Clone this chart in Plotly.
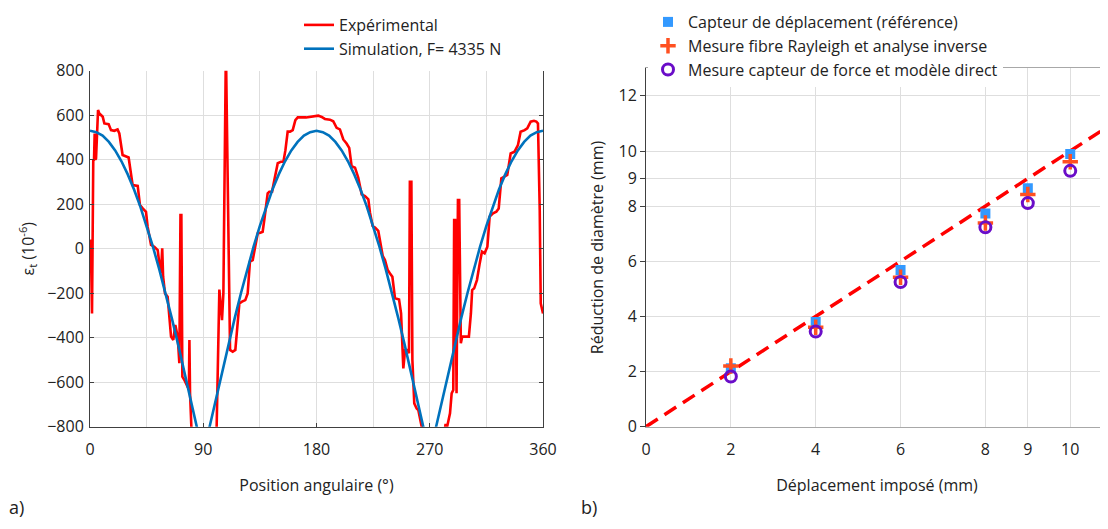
import plotly.graph_objects as go

# ---------------- Data: panel a) ----------------
red_theta = [0, 0.6, 1.6, 2.6, 3.2, 3.7, 4.3, 4.8, 6.4, 7.4, 8.7, 10.1, 11.4, 14.8, 16.7, 19.3, 21.9, 23.3,
             25.9, 28.6, 30.7, 32.5, 33.9, 37.9, 39.7, 41.9, 44.5, 45.8, 48.5, 51.1, 53.8, 55.1, 56.4, 57.4,
             58.1, 59.6, 61.7, 64.4, 66.2, 67.8, 69.7, 71.0, 71.9, 72.6, 73.4, 75.0, 77.5, 78.6, 79.0, 79.5,
             80.8, 81.6, 90, 100.3, 102.8, 104.9, 106.0, 107.4, 108.0, 111.3, 113.4, 115.5, 117.3, 118.7,
             120.8, 123.4, 125.3, 127.1, 129.3, 131.4, 133.3, 135.4, 137.2, 138.5, 139.9, 141.2, 142.5, 144.7,
             146.5, 149.2, 151.8, 153.7, 155.3, 157.1, 159.0, 161.1, 163.2, 165.1, 171.7, 177.5, 181.4, 184.1,
             186.7, 190.7, 193.3, 196.0, 198.6, 201.3, 203.9, 206.0, 207.9, 210.6, 213.2, 215.9, 218.5, 221.2,
             222.5, 224.6, 226.5, 229.1, 230.5, 232.6, 234.4, 236.6, 238.4, 240.3, 242.4, 245.6, 247.2, 248.3,
             249.0, 250.4, 252.5, 253.5, 254.2, 255.4, 256.2, 257.7, 259.6, 260.9, 262.2, 263.6, 264.5, 272,
             281.0, 282.6, 283.8, 286.1, 287.4, 288.7, 289.4, 290.2, 291.3, 292.4, 293.4, 294.7, 295.8, 301.1,
             302.7, 303.7, 305.3, 307.5, 309.7, 311.5, 313.6, 315.8, 317.6, 320.3, 322.9, 324.8, 326.9, 329.0,
             331.6, 334.3, 337.4, 340.1, 342.2, 345.4, 347.5, 350.2, 352.8, 354.7, 356.0, 357.4, 358.2, 360]
red_strain = [20, 40, -291, 399, 400, 518, 400, 406, 623, 608, 601, 593, 563, 560, 533, 530, 536, 518,
              421, 413, 410, 339, 286, 282, 196, 181, 166, 99, 17, 9, -6, -66, -111, 2,
              -126, -201, -216, -395, -410, -343, -395, -515, 151, 151, -575, -590, -620, -620, -410, -650,
              -800, -950, -1000, -900, -184, -321, -201, 900, 900, -455, -463, -455, -321, -246,
              -238, -231, -201, -58, -51, 9, 69, 72, 76, 129, 204, 249, 256, 256,
              309, 384, 391, 391, 443, 526, 526, 533, 578, 590, 590, 595, 598, 592,
              583, 580, 573, 543, 536, 491, 473, 453, 371, 364, 319, 244, 237, 222,
              162, 102, 95, 80, 28, -32, -51, -96, -111, -126, -223, -228, -291, -455,
              -538, -455, -455, -470, 301, 301, -500, -695, -718, -725, -770, -800, -900, -950,
              -850, -788, -800, -740, -650, -635, 129, 129, -650, 219, 219, -425, -395, -395,
              -291, -186, -178, -141, -66, -13, -21, 9, 144, 159, 166, 181, 316, 324,
              331, 428, 436, 466, 526, 533, 541, 571, 575, 571, 563, 174, -246, -291]

blue_theta = [0, 5, 10, 15, 20, 25, 30, 35, 40, 45, 50, 55, 60, 65, 70, 75, 80, 85, 90,
              95, 100, 105, 110, 115, 120, 125, 130, 135, 140, 145, 150, 155, 160, 165, 170, 175, 180,
              185, 190, 195, 200, 205, 210, 215, 220, 225, 230, 235, 240, 245, 250, 255, 260, 265, 270,
              275, 280, 285, 290, 295, 300, 305, 310, 315, 320, 325, 330, 335, 340, 345, 350, 355, 360]
blue_strain = [530, 524, 508, 480, 442, 393, 334, 266, 189, 103, 9, -92, -199, -312, -430, -551, -675, -801, -928,
               -801, -675, -551, -430, -312, -199, -92, 9, 103, 189, 266, 334, 393, 442, 480, 508, 524, 530,
               524, 508, 480, 442, 393, 334, 266, 189, 103, 9, -92, -199, -312, -430, -551, -675, -801, -928,
               -801, -675, -551, -430, -312, -199, -92, 9, 103, 189, 266, 334, 393, 442, 480, 508, 524, 530]

# ---------------- Data: panel b) ----------------
disp = [2, 4, 6, 8, 9, 10]
ref_sensor = [2.12, 3.80, 5.68, 7.73, 8.65, 9.89]
rayleigh = [2.20, 3.61, 5.42, 7.39, 8.42, 9.61]
force_model = [1.82, 3.45, 5.25, 7.23, 8.11, 9.28]
ideal_x = [0, 11]
ideal_y = [0, 11]

FONT = "Open Sans"
GRID = "#dedede"
AX = "#404040"

# the page body adds an 8 px offset; figure coordinates = page coordinates - 8
W, H = 1100, 513
OFF = 8


def fx(px):
    return (px - OFF) / W


def fy(py):
    return 1 - (py - OFF) / H


fig = go.Figure()

fig.add_trace(go.Scatter(x=red_theta, y=red_strain, mode="lines", name="Expérimental",
                         line=dict(color="#ff0000", width=2.6), xaxis="x", yaxis="y", legend="legend"))
fig.add_trace(go.Scatter(x=blue_theta, y=blue_strain, mode="lines", name="Simulation, F= 4335 N",
                         line=dict(color="#0072bd", width=2.6), xaxis="x", yaxis="y", legend="legend"))

fig.add_trace(go.Scatter(x=ideal_x, y=ideal_y, mode="lines", showlegend=False,
                         line=dict(color="#ff0000", width=3.5, dash="14px,8px"), xaxis="x2", yaxis="y2"))
fig.add_trace(go.Scatter(x=disp, y=ref_sensor, mode="markers", name="Capteur de déplacement (référence)",
                         marker=dict(symbol="square", size=10, color="#3399ff"),
                         xaxis="x2", yaxis="y2", legend="legend2"))
fig.add_trace(go.Scatter(x=disp, y=rayleigh, mode="markers", name="Mesure fibre Rayleigh et analyse inverse",
                         marker=dict(symbol="cross-thin-open", size=11, color="#ff5020",
                                     line=dict(color="#ff5020", width=3.5)),
                         xaxis="x2", yaxis="y2", legend="legend2"))
fig.add_trace(go.Scatter(x=disp, y=force_model, mode="markers", name="Mesure capteur de force et modèle direct",
                         marker=dict(symbol="circle-open", size=11, color="#6a0dc8",
                                     line=dict(color="#6a0dc8", width=3)),
                         xaxis="x2", yaxis="y2", legend="legend2"))

fig.update_layout(
    width=W, height=H,
    margin=dict(l=0, r=0, t=0, b=0, autoexpand=False),
    paper_bgcolor="white", plot_bgcolor="white",
    font=dict(family=FONT, size=16, color="#222222"),
    xaxis=dict(domain=[fx(90), fx(543)], range=[0, 360], tickvals=[0, 90, 180, 270, 360],
               showgrid=True, gridcolor=GRID, gridwidth=1,
               minor=dict(dtick=45, tick0=0, showgrid=True, gridcolor=GRID, gridwidth=1),
               showline=True, linecolor=AX, linewidth=1, ticks="inside", ticklen=4, tickcolor=AX,
               zeroline=False, ticklabelstandoff=8, automargin=False,
               title=dict(text="Position angulaire (°)", standoff=20, font=dict(size=16))),
    yaxis=dict(domain=[fy(426.7), fy(70.7)], range=[-800, 800], dtick=200,
               showgrid=True, gridcolor=GRID, gridwidth=1,
               showline=True, linecolor=AX, linewidth=1, mirror="ticks", ticks="inside", ticklen=4,
               tickcolor=AX, zeroline=False, ticklabelstandoff=2, automargin=False,
               title=dict(text="ε<sub>t</sub> (10<sup>-6</sup>)", standoff=8, font=dict(size=16))),
    xaxis2=dict(domain=[fx(646), 1.0], range=[0, 10.89], tickvals=[0, 2, 4, 6, 8, 9, 10],
                showgrid=True, gridcolor=GRID, gridwidth=1,
                showline=True, linecolor="#a8a8a8", linewidth=1, mirror=True, ticks="",
                zeroline=False, ticklabelstandoff=8, anchor="y2", automargin=False,
                title=dict(text="Déplacement imposé (mm)", standoff=20, font=dict(size=16))),
    yaxis2=dict(domain=[fy(426.7), fy(68.3)], range=[0, 13], tickvals=[0, 2, 4, 6, 8, 9, 10, 12],
                showgrid=True, gridcolor=GRID, gridwidth=1,
                showline=True, linecolor=AX, linewidth=1, ticks="outside", ticklen=5, tickcolor=AX,
                zeroline=False, anchor="x2", automargin=False,
                title=dict(text="Réduction de diamètre (mm)", standoff=10, font=dict(size=16))),
    legend=dict(x=fx(299), xanchor="left", y=1.0, yanchor="top", bgcolor="rgba(0,0,0,0)",
                font=dict(size=16), tracegroupgap=0, itemwidth=30),
    legend2=dict(x=fx(648), xanchor="left", y=1 + 3 / H, yanchor="top", bgcolor="white",
                 font=dict(size=16), tracegroupgap=0, itemwidth=30),
    annotations=[
        dict(text="a)", x=fx(7), y=0, xref="paper", yref="paper", xanchor="left", yanchor="bottom",
             showarrow=False, font=dict(size=18)),
        dict(text="b)", x=fx(579), y=0, xref="paper", yref="paper", xanchor="left", yanchor="bottom",
             showarrow=False, font=dict(size=18)),
    ],
)

fig.write_html("out.html")
